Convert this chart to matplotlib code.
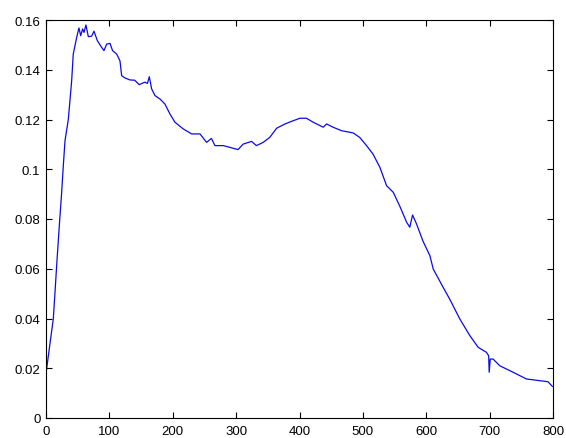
import matplotlib
matplotlib.use("Agg")
import matplotlib.pyplot as plt

x_vals = [0, 3.7, 11.5, 14.2, 16.8, 21, 24.7, 27.3, 30, 35.2, 40.5, 43, 48.4, 52, 54.7,
          57.8, 60, 63, 66.8, 72, 75.7, 81, 87.8, 91.5, 95.7, 101, 105, 111.5, 116.7,
          119.4, 124.6, 132.5, 140, 147, 156, 160, 163, 166.7, 172, 180, 187.7, 195.6,
          203.5, 216.6, 229.8, 243, 253.4, 261, 266.6, 279.7, 290, 303, 311, 324.4, 332,
          342.7, 353, 364, 377, 390, 400.6, 411, 421.6, 437.4, 442.7, 453, 466.4, 484.7,
          495, 505.8, 516, 526.8, 537.4, 548, 558, 569, 574, 578.4, 584.7, 595, 605.7,
          611, 626.7, 637, 653, 668.8, 682, 695, 698.5, 699.3, 701, 705.5, 716, 737, 758,
          779, 792, 799]
y_vals = [0.0177, 0.025, 0.0398, 0.0505, 0.0612, 0.0773, 0.0907, 0.1014, 0.1115, 0.1200,
          0.1356, 0.1463, 0.153, 0.1568, 0.1537, 0.1564, 0.1550, 0.1580, 0.1533, 0.1535,
          0.1555, 0.1517, 0.149, 0.1477, 0.1503, 0.1506, 0.1477, 0.1463, 0.1436, 0.1376,
          0.1367, 0.1359, 0.1358, 0.134, 0.135, 0.1345, 0.1372, 0.1323, 0.1296, 0.1282,
          0.1262, 0.1222, 0.1189, 0.1162, 0.1142, 0.1142, 0.1108, 0.1124, 0.1095, 0.1095,
          0.1088, 0.1079, 0.1101, 0.1112, 0.1095, 0.1108, 0.1128, 0.1165, 0.1182, 0.1195,
          0.1205, 0.1205, 0.1189, 0.1169, 0.1182, 0.1169, 0.1155, 0.1146, 0.1128, 0.1095,
          0.1061, 0.1008, 0.0934, 0.0907, 0.0853, 0.0787, 0.0767, 0.0816, 0.078, 0.0710,
          0.0653, 0.0599, 0.0525, 0.0478, 0.0398, 0.0331, 0.0284, 0.0264, 0.025, 0.0184,
          0.0237, 0.0237, 0.021, 0.0184, 0.0157, 0.015, 0.0146, 0.0127]

x_ticks = [0, 100, 200, 300, 400, 500, 600, 700, 800]
y_ticks = [0, 0.02, 0.04, 0.06, 0.08, 0.1, 0.12, 0.14, 0.16]
y_tick_labels = ["0", "0.02", "0.04", "0.06", "0.08", "0.1", "0.12", "0.14", "0.16"]

plt.rcParams['font.family'] = ['Liberation Sans', 'DejaVu Sans']

fig = plt.figure(figsize=(5.66, 4.39), dpi=100)
ax = fig.add_axes([46/566, 20/439, (553-46)/566, (419-21)/439])
ax.plot(x_vals, y_vals, color='#0a0ae6', lw=0.9)
ax.set_xlim(0, 800)
ax.set_ylim(0, 0.16)
ax.set_xticks(x_ticks)
ax.set_yticks(y_ticks)
ax.set_yticklabels(y_tick_labels)
ax.tick_params(direction='in', top=True, right=True, length=4, width=0.8,
               labelsize=9.5, colors='black')
ax.tick_params(axis='x', pad=5)
ax.tick_params(axis='y', pad=4)
for s in ax.spines.values():
    s.set_linewidth(0.8)
fig.savefig("out.png", dpi=100, facecolor='white')
